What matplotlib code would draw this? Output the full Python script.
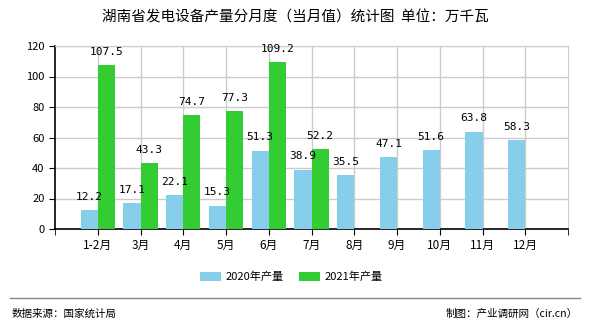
import matplotlib.pyplot as plt
import numpy as np

plt.rcParams['font.family'] = ['Noto Sans CJK SC', 'DejaVu Sans']

months = ['1-2月', '3月', '4月', '5月', '6月', '7月', '8月', '9月', '10月', '11月', '12月']
prod_2020 = [12.2, 17.1, 22.1, 15.3, 51.3, 38.9, 35.5, 47.1, 51.6, 63.8, 58.3]
prod_2021 = [107.5, 43.3, 74.7, 77.3, 109.2, 52.2]

c2020 = '#87ceeb'
c2021 = '#33cc33'

fig = plt.figure(figsize=(5.9, 3.3), dpi=100)
ax = fig.add_axes([55 / 590, 1 - 229 / 330, (568 - 55) / 590, (229 - 46) / 330])

x = np.arange(1, len(months) + 1)
w = 0.4
b1 = ax.bar(x[:len(prod_2020)], prod_2020, width=-w, align='edge', color=c2020, label='2020年产量', zorder=3)
b2 = ax.bar(x[:len(prod_2021)], prod_2021, width=w, align='edge', color=c2021, label='2021年产量', zorder=3)

for bars, vals in ((b1, prod_2020), (b2, prod_2021)):
    for r, v in zip(bars, vals):
        ax.annotate(f'{v:.1f}', (r.get_x() + r.get_width() / 2, v), xytext=(0, 6),
                    textcoords='offset points', ha='center', va='bottom',
                    fontsize=8, family='DejaVu Sans Mono', zorder=4)

ax.set_xlim(0, 12)
ax.set_ylim(0, 120)
ax.set_xticks(x)
ax.set_xticklabels(months, fontsize=8.5)
ax.set_xticks(np.arange(0, 13), minor=True)
ax.set_yticks(np.arange(0, 121, 20))
ax.tick_params(axis='y', labelsize=8, length=4)
ax.tick_params(axis='x', which='both', length=4, pad=3)
ax.grid(True, color='#cccccc', linewidth=1, zorder=0)
for s in ('top', 'right'):
    ax.spines[s].set_color('#cccccc')
for s in ('left', 'bottom'):
    ax.spines[s].set_color('black')
    ax.spines[s].set_linewidth(1.2)

fig.text(0.5, 1 - 17 / 330, '湖南省发电设备产量分月度（当月值）统计图  单位：万千瓦',
         ha='center', va='center', fontsize=10.5)

fig.legend(handles=[b1, b2], loc='center', bbox_to_anchor=(291 / 590, 1 - 277 / 330),
           ncol=2, frameon=False, fontsize=8, handlelength=1.9, handleheight=0.8,
           columnspacing=1.4, handletextpad=0.4)

fig.add_artist(plt.Line2D([10 / 590, 580 / 590], [1 - 298 / 330] * 2, color='#888888', linewidth=1))
fig.text(12 / 590, 1 - 314 / 330, '数据来源：国家统计局', ha='left', va='center', fontsize=7.6)
fig.text(578 / 590, 1 - 314 / 330, '制图：产业调研网（cir.cn）', ha='right', va='center', fontsize=7.6)

fig.savefig('out.png', dpi=100)
